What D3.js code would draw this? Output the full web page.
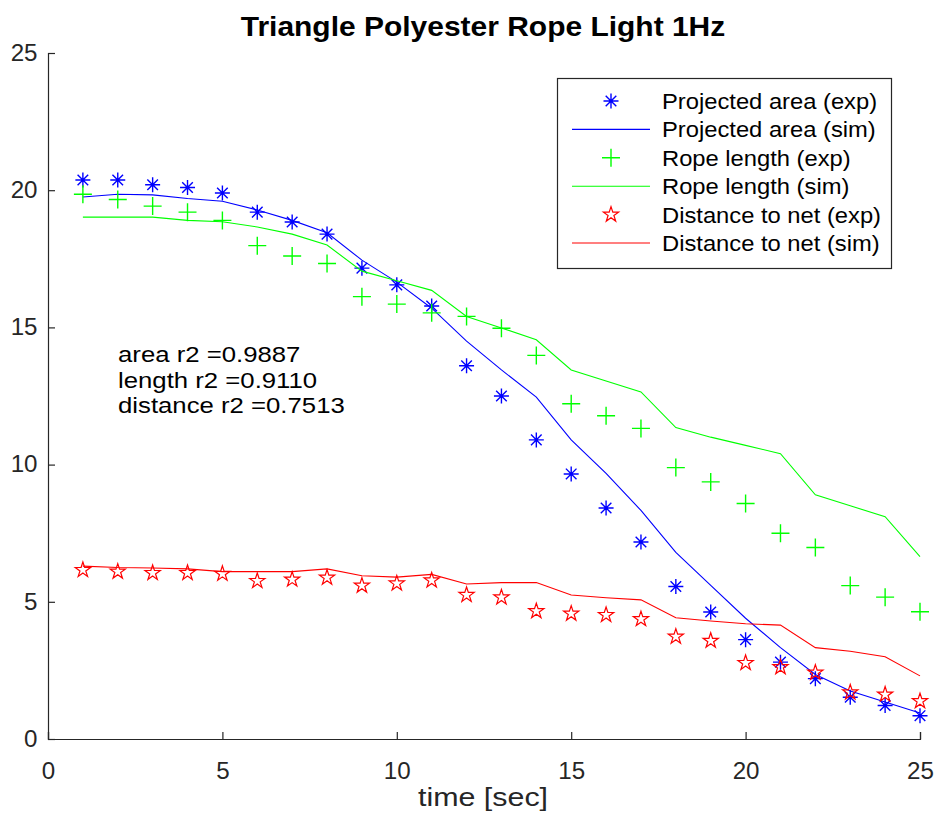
<!DOCTYPE html>
<html><head><meta charset="utf-8">
<script src="https://cdn.jsdelivr.net/npm/d3@7"></script>
<style>body{margin:0;background:#fff}svg{display:block}text{font-family:"Liberation Sans",Arial,Helvetica,sans-serif}</style>
</head><body><div id="chart"></div>
<script>
const time = d3.range(1, 26);
const areaExp = [20.37,20.37,20.2,20.1,19.9,19.2,18.84,18.4,17.16,16.55,15.78,13.6,12.5,10.9,9.66,8.42,7.18,5.56,4.63,3.62,2.8,2.2,1.52,1.22,0.85];
const areaSim = [19.75,19.85,19.83,19.7,19.6,19.28,18.9,18.45,17.45,16.65,15.7,14.5,13.45,12.46,10.9,9.68,8.33,6.8,5.6,4.4,3.33,2.35,1.75,1.35,0.95];
const ropeExp = [19.85,19.66,19.42,19.2,18.9,17.98,17.6,17.33,16.12,15.85,15.53,15.4,14.97,13.98,12.22,11.78,11.32,9.89,9.37,8.58,7.5,6.98,5.59,5.17,4.64];
const ropeSim = [19.02,19.02,19.02,18.9,18.85,18.66,18.4,18.0,17.05,16.7,16.35,15.4,14.98,14.55,13.45,13.05,12.65,11.35,11.0,10.7,10.4,8.9,8.5,8.1,6.65];
const distExp = [6.16,6.1,6.05,6.05,6.02,5.76,5.81,5.88,5.59,5.67,5.78,5.25,5.16,4.66,4.57,4.52,4.37,3.73,3.58,2.77,2.62,2.42,1.7,1.62,1.38];
const distSim = [6.3,6.25,6.23,6.2,6.1,6.1,6.1,6.2,5.95,5.9,6.0,5.65,5.7,5.7,5.25,5.15,5.07,4.42,4.3,4.2,4.15,3.33,3.2,3.0,2.3];
const xTicks = [0,5,10,15,20,25];
const yTicks = [0,5,10,15,20,25];
const legendLabels = ["Projected area (exp)","Projected area (sim)","Rope length (exp)","Rope length (sim)","Distance to net (exp)","Distance to net (sim)"];
const statLines = ["area r2 =0.9887","length r2 =0.9110","distance r2 =0.7513"];

const W = 934, H = 818;
const svg = d3.select("#chart").append("svg").attr("width", W).attr("height", H);
const x = d3.scaleLinear().domain([0,25]).range([48,920]);
const y = d3.scaleLinear().domain([0,25]).range([739,53]);
const axisCol = "#262626";

// axes
const gx = svg.append("g").attr("transform", `translate(0,${y(0)})`)
  .call(d3.axisBottom(x).tickValues(xTicks).tickSize(-7).tickPadding(24).tickFormat(d3.format("d")));
const gy = svg.append("g").attr("transform", `translate(${x(0)},0)`)
  .call(d3.axisLeft(y).tickValues(yTicks).tickSize(-7).tickPadding(10).tickFormat(d3.format("d")));
[gx, gy].forEach(g => {
  g.select(".domain").attr("stroke", axisCol).attr("stroke-width", 1.2);
  g.selectAll(".tick line").attr("stroke", axisCol).attr("stroke-width", 1.2);
  g.selectAll(".tick text").attr("fill", axisCol).attr("font-size", 23)
    .attr("font-family", '"Liberation Sans",Arial,sans-serif')
    .attr("transform", "scale(1.05,1)");
});

function stext(xp, yp, sx, txt){
  return svg.append("text").attr("transform", `translate(${xp},${yp}) scale(${sx},1)`).text(txt);
}
stext(483, 36, 1.11, "Triangle Polyester Rope Light 1Hz").attr("text-anchor","middle")
  .attr("font-size", 27).attr("font-weight","bold").attr("fill","#000");
stext(483, 806, 1.17, "time [sec]").attr("text-anchor","middle")
  .attr("font-size", 26).attr("fill", axisCol);

// marker paths
function asterisk(r){ const d = r*0.7071;
  return `M${-r},0L${r},0M0,${-r}L0,${r}M${-d},${-d}L${d},${d}M${-d},${d}L${d},${-d}`; }
function plus(r){ return `M${-r},0L${r},0M0,${-r}L0,${r}`; }
function pentagram(R){ const r = R*0.382; const pts=[];
  for(let i=0;i<10;i++){ const a = -Math.PI/2 + i*Math.PI/5; const rr = i%2?r:R; pts.push([rr*Math.cos(a), rr*Math.sin(a)]); }
  return "M"+pts.map(p=>p[0].toFixed(2)+","+p[1].toFixed(2)).join("L")+"Z"; }

const series = [
  {exp: areaExp, sim: areaSim, color:"#0000ff", marker: asterisk(7.5), sw:1.4},
  {exp: ropeExp, sim: ropeSim, color:"#00ff00", marker: plus(9), sw:1.4},
  {exp: distExp, sim: distSim, color:"#ff0000", marker: pentagram(8), sw:1.2}
];
const line = d3.line().x((d,i)=>x(time[i])).y(d=>y(d));
series.forEach(s => {
  svg.append("path").datum(s.sim).attr("d", line).attr("fill","none").attr("stroke", s.color).attr("stroke-width", 1.1);
  svg.append("g").selectAll("path").data(s.exp).join("path")
    .attr("d", s.marker).attr("transform",(d,i)=>`translate(${x(time[i])},${y(d)})`)
    .attr("fill", "none").attr("stroke", s.color).attr("stroke-width", s.sw);
});

// stats text
statLines.forEach((t,i) => stext(118, 362 + i*25.5, 1.17, t).attr("font-size", 22).attr("fill","#000"));

// legend
const lg = svg.append("g");
lg.append("rect").attr("x",557.5).attr("y",78.5).attr("width",334).attr("height",190)
  .attr("fill","#fff").attr("stroke",axisCol).attr("stroke-width",1.2);
legendLabels.forEach((lab,i) => {
  const cy = 101 + i*28.4; const s = series[Math.floor(i/2)];
  if (i%2===0) lg.append("path").attr("d", s.marker).attr("transform",`translate(611,${cy})`)
      .attr("fill","none").attr("stroke",s.color).attr("stroke-width",s.sw);
  else lg.append("line").attr("x1",572).attr("x2",650).attr("y1",cy).attr("y2",cy).attr("stroke",s.color).attr("stroke-width",1.1);
  lg.append("text").attr("transform",`translate(662,${cy+8}) scale(1.08,1)`)
    .attr("font-size",22).attr("fill","#000").text(lab);
});
</script></body></html>
